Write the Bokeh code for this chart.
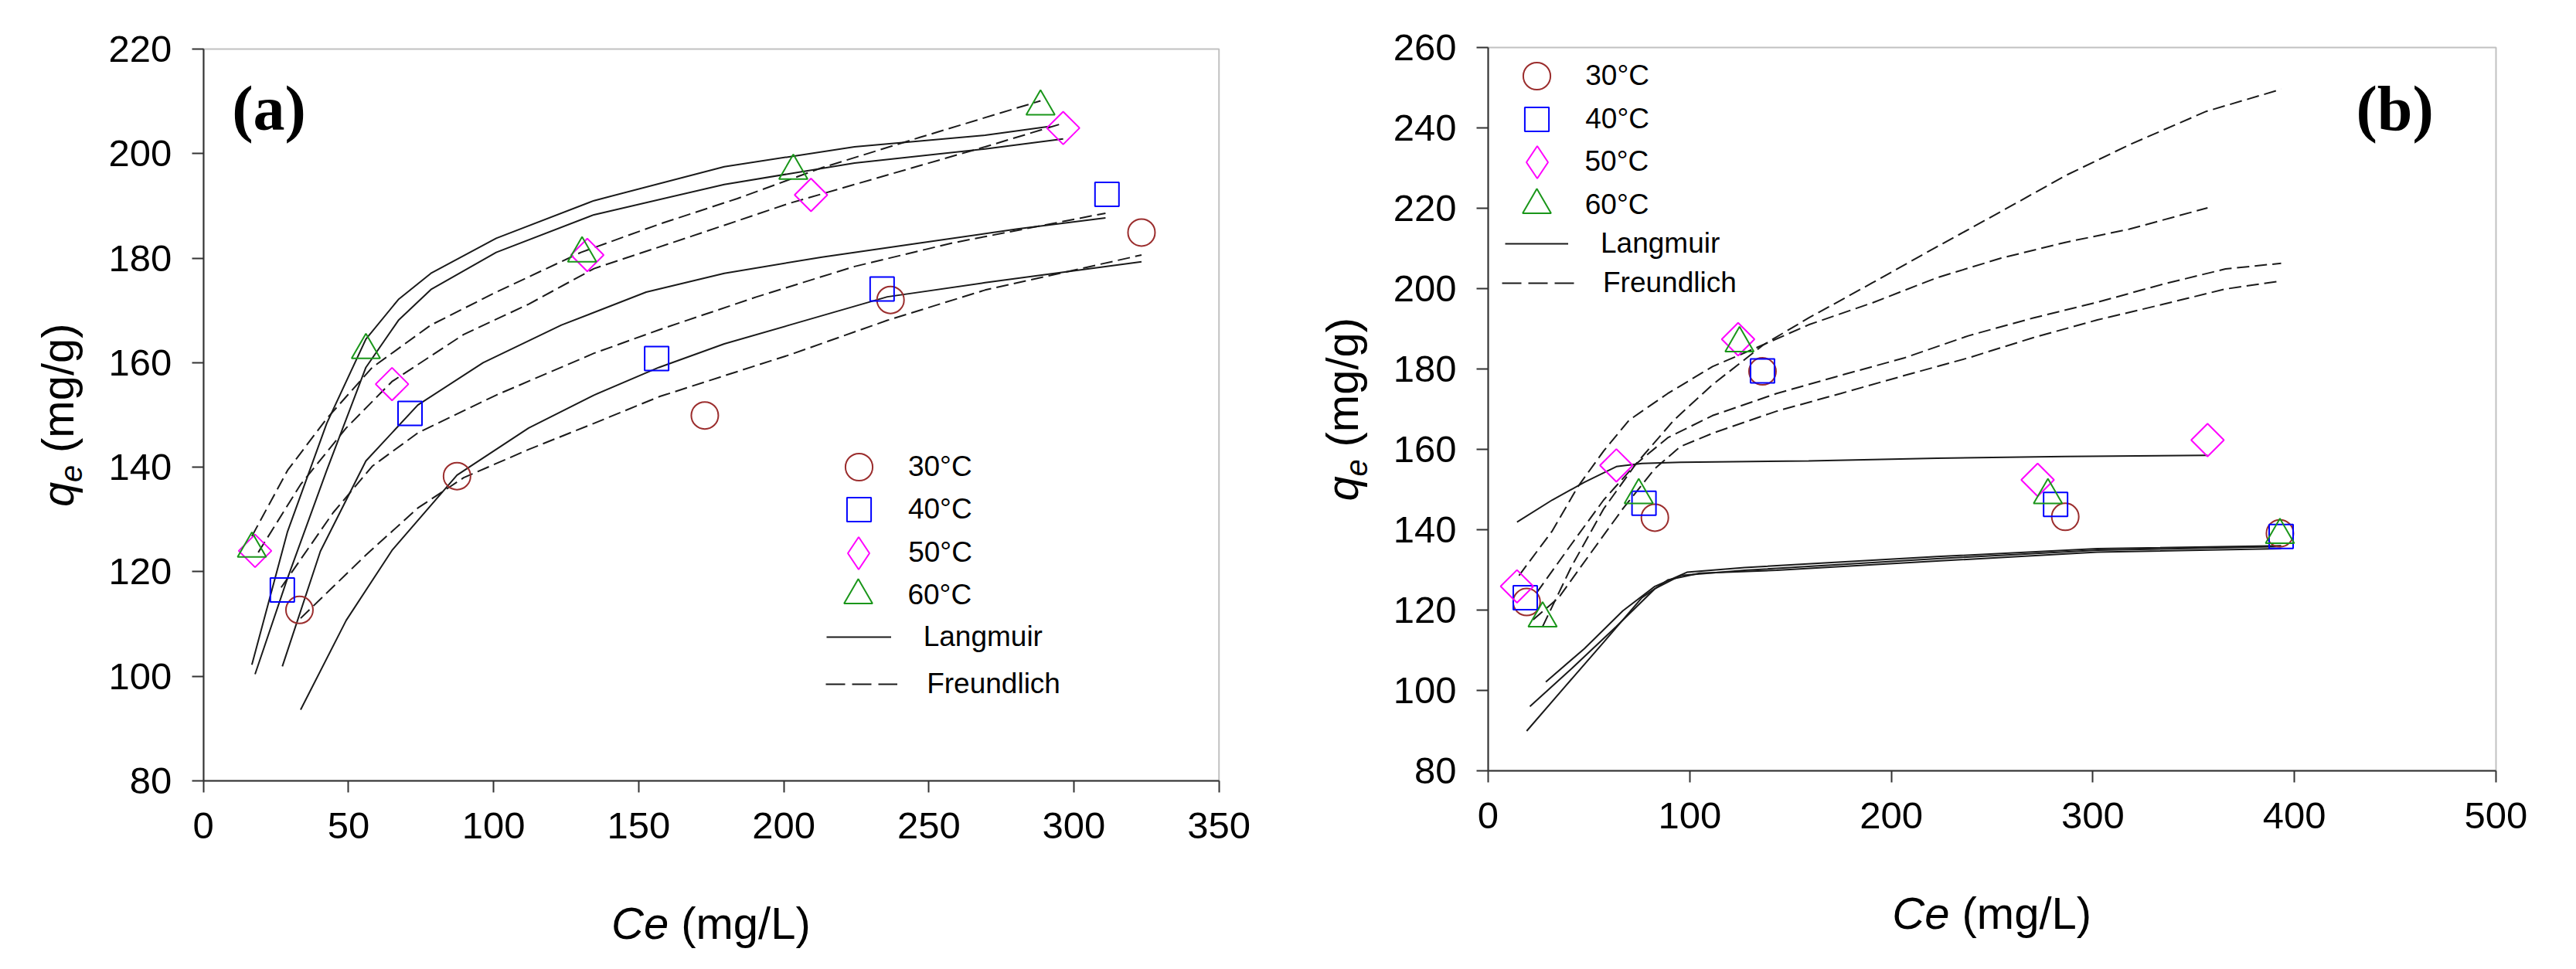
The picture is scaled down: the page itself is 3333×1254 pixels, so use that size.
"""
Adsorption isotherms at four temperatures, panels (a) and (b):
measured qe against Ce with Langmuir (solid) and Freundlich (dashed) fits.
"""

import math

from bokeh.embed import file_html
from bokeh.layouts import row
from bokeh.models import (BoxAnnotation, FixedTicker, Label, Legend, LegendItem,
                          LinearAxis, Range1d)
from bokeh.plotting import figure
from bokeh.resources import INLINE

SANS = "Liberation Sans"
SERIF = "Liberation Serif"
AXIS_COLOR = "#333333"
CURVE_COLOR = "#1a1a1a"
TEMPS = ["30", "40", "50", "60"]
NAN = float("nan")

# ---------------- panel (a) ----------------
a_x_ticks = [0, 50, 100, 150, 200, 250, 300, 350]
a_y_ticks = [80, 100, 120, 140, 160, 180, 200, 220]

a_ce_30 = [33.1, 87.4, 172.8, 236.8, 323.3]
a_qe_30 = [112.7, 138.3, 149.9, 172.0, 184.9]
a_ce_40 = [27.2, 71.2, 156.2, 233.9, 311.4]
a_qe_40 = [116.5, 150.3, 160.8, 174.1, 192.2]
a_ce_50 = [17.8, 65.0, 132.3, 209.4, 296.3]
a_qe_50 = [124.0, 155.9, 180.6, 192.1, 204.9]
a_ce_60 = [16.7, 56.0, 130.5, 203.3, 288.5]
a_qe_60 = [124.4, 162.4, 180.9, 196.7, 209.0]

a_lang_ce_30 = [33.5, 49.2, 65.0, 87.4, 112.1, 134.6, 157.0, 179.5, 202.0, 235.7, 269.4, 323.3]
a_lang_qe_30 = [93.6, 110.7, 124.1, 138.5, 147.5, 153.8, 159.1, 163.6, 167.2, 172.6, 175.3, 179.3]
a_lang_ce_40 = [27.2, 40.3, 56.0, 73.9, 96.4, 123.4, 152.6, 179.5, 213.2, 246.9, 280.6, 310.9]
a_lang_qe_40 = [101.9, 123.9, 141.2, 151.9, 160.0, 167.2, 173.5, 177.1, 180.2, 182.9, 185.6, 187.7]
a_lang_ce_50 = [17.8, 29.0, 42.5, 56.0, 67.2, 78.4, 100.9, 134.6, 179.5, 224.4, 269.4, 296.3]
a_lang_qe_50 = [100.4, 118.8, 139.4, 159.1, 168.1, 174.0, 181.1, 188.3, 194.1, 198.2, 200.9, 202.8]
a_lang_ce_60 = [16.7, 29.0, 42.5, 56.0, 67.2, 78.4, 100.9, 134.6, 179.5, 224.4, 269.4, 291.8]
a_lang_qe_60 = [102.2, 127.7, 148.4, 164.5, 172.1, 177.1, 183.8, 191.0, 197.5, 201.3, 203.5, 205.2]

a_freu_ce_30 = [33.5, 56.0, 73.9, 89.7, 112.1, 134.6, 157.1, 179.5, 202.0, 235.7, 269.4, 323.3]
a_freu_qe_30 = [111.1, 123.2, 132.2, 138.0, 143.4, 148.4, 153.5, 157.5, 161.5, 168.1, 173.9, 180.6]
a_freu_ce_40 = [26.8, 44.7, 58.2, 74.0, 100.9, 134.6, 157.1, 190.7, 224.4, 258.1, 310.9]
a_freu_qe_40 = [117.0, 131.3, 140.2, 146.6, 153.8, 161.8, 166.3, 172.6, 178.4, 182.9, 188.6]
a_freu_ce_50 = [18.9, 33.5, 49.2, 65.0, 89.7, 112.1, 134.6, 168.3, 202.0, 235.7, 269.4, 296.3]
a_freu_qe_50 = [123.7, 136.7, 147.5, 156.4, 165.4, 171.2, 178.0, 184.2, 190.5, 195.9, 201.3, 205.8]
a_freu_ce_60 = [16.7, 29.0, 42.5, 58.2, 78.4, 100.9, 130.1, 157.1, 184.0, 213.2, 246.9, 288.5]
a_freu_qe_60 = [126.8, 139.4, 149.3, 159.1, 167.2, 173.5, 181.1, 186.5, 191.4, 197.3, 203.1, 210.1]

# ---------------- panel (b) ----------------
b_x_ticks = [0, 100, 200, 300, 400, 500]
b_y_ticks = [80, 100, 120, 140, 160, 180, 200, 220, 240, 260]

b_ce_30 = [19.1, 82.7, 136.1, 286.3, 392.8]
b_qe_30 = [122.0, 143.0, 179.4, 143.2, 139.1]
b_ce_40 = [18.4, 77.3, 136.1, 281.5, 393.4]
b_qe_40 = [123.1, 146.6, 179.5, 146.3, 138.3]
b_ce_50 = [14.3, 63.6, 124.0, 272.6, 356.9]
b_qe_50 = [125.9, 156.0, 187.4, 152.4, 162.3]
b_ce_60 = [27.0, 74.7, 124.7, 277.7, 392.8]
b_qe_60 = [117.9, 148.6, 186.4, 148.6, 138.7]

b_lang_ce_30 = [19.1, 38.2, 57.3, 76.3, 89.1, 105.0, 143.1, 222.6, 302.2, 393.4]
b_lang_qe_30 = [89.9, 101.0, 112.0, 123.1, 127.5, 129.2, 129.9, 132.2, 134.4, 135.3]
b_lang_ce_40 = [20.7, 41.3, 63.6, 82.7, 95.4, 127.2, 222.6, 302.2, 393.4]
b_lang_qe_40 = [96.0, 105.4, 115.9, 125.3, 128.6, 129.9, 132.8, 134.9, 135.8]
b_lang_ce_50 = [14.3, 31.8, 47.7, 63.6, 76.3, 95.4, 159.0, 222.6, 286.3, 356.9]
b_lang_qe_50 = [141.9, 147.4, 151.8, 155.7, 156.5, 156.8, 157.1, 157.8, 158.2, 158.5]
b_lang_ce_60 = [28.6, 47.7, 66.8, 82.7, 98.6, 127.2, 222.6, 302.2, 393.4]
b_lang_qe_60 = [102.1, 110.4, 119.8, 125.9, 129.4, 130.6, 133.3, 135.3, 136.0]

b_freu_ce_30 = [22.3, 35.0, 50.9, 66.8, 82.7, 95.4, 111.3, 143.1, 174.9, 206.7, 238.5, 270.4, 302.2, 334.0, 365.8, 393.4]
b_freu_qe_30 = [117.6, 123.1, 134.2, 145.2, 155.2, 160.7, 164.0, 169.5, 173.9, 178.4, 182.8, 187.8, 192.2, 196.0, 199.9, 201.9]
b_freu_ce_40 = [23.9, 41.3, 57.3, 73.2, 89.1, 111.3, 143.1, 174.9, 206.7, 238.5, 270.4, 302.2, 334.0, 365.8, 393.4]
b_freu_qe_40 = [124.2, 136.4, 147.4, 156.3, 162.9, 168.4, 173.9, 178.4, 182.8, 188.3, 192.7, 196.6, 201.0, 204.9, 206.3]
b_freu_ce_50 = [15.3, 31.8, 44.5, 57.3, 70.0, 89.1, 111.3, 136.8, 159.0, 190.8, 222.6, 254.5, 286.3, 318.1, 356.9]
b_freu_qe_50 = [128.6, 139.7, 150.7, 159.6, 167.3, 173.9, 180.6, 186.1, 191.0, 196.5, 202.7, 207.6, 211.5, 214.8, 220.1]
b_freu_ce_60 = [27.0, 41.3, 57.3, 73.2, 92.2, 111.3, 136.8, 159.0, 190.8, 222.6, 254.5, 286.3, 318.1, 356.2, 393.4]
b_freu_qe_60 = [115.9, 130.8, 145.2, 156.3, 167.3, 176.1, 186.1, 192.7, 201.5, 210.4, 219.2, 228.1, 235.8, 244.1, 249.6]

legend_labels = ["30°C", "40°C", "50°C", "60°C"]

# marker, colour, size, angle
MARKER_STYLE = {
    "30": ("circle", "#9b2d2d", 35, 0.0),
    "40": ("square", "#0000ff", 31, 0.0),
    "50": ("square", "#ff00ff", 30, math.pi / 4),
    "60": ("triangle", "#1a961a", 37, 0.0),
}


def key(p, renderer, label, cx, cy, w, h, text_x, box, fig_h):
    """One legend entry; cx, cy, text_x are px from the data box's top-left."""
    left, top = box[0], box[1]
    legend = Legend(
        items=[LegendItem(label=label, renderers=[renderer])],
        location=(left + cx - w / 2, fig_h - (top + cy) - h / 2),
        glyph_width=int(round(w)), glyph_height=int(round(h)),
        label_standoff=int(round(text_x - (cx + w / 2))),
        padding=0, margin=0, spacing=0,
        border_line_alpha=0, background_fill_alpha=0,
        label_text_font=SANS, label_text_font_size="37px",
        label_text_color="black",
    )
    p.add_layout(legend)


def make_panel(tag, size, box, limits, x_ticks, y_ticks,
               points, lang, freu, legend_pos, tag_offset):
    """The whole canvas is the frame; axes sit at fixed data positions inside it."""
    fig_w, fig_h = size
    left, top, bw, bh = box
    xmin, xmax, ymin, ymax = limits
    sx = bw / (xmax - xmin)
    sy = bh / (ymax - ymin)
    x_range = Range1d(xmin - left / sx, xmax + (fig_w - left - bw) / sx)
    y_range = Range1d(ymin - (fig_h - top - bh) / sy, ymax + top / sy)

    p = figure(
        width=fig_w, height=fig_h, x_range=x_range, y_range=y_range,
        x_axis_location=None, y_axis_location=None, min_border=0,
        output_backend="svg", toolbar_location=None, tools="",
    )
    p.xgrid.visible = False
    p.ygrid.visible = False
    p.outline_line_color = None

    xaxis = LinearAxis(fixed_location=ymin, bounds=(xmin, xmax),
                       ticker=FixedTicker(ticks=x_ticks))
    yaxis = LinearAxis(fixed_location=xmin, bounds=(ymin, ymax),
                       ticker=FixedTicker(ticks=y_ticks))
    for ax in (xaxis, yaxis):
        ax.axis_line_color = AXIS_COLOR
        ax.axis_line_width = 2
        ax.major_tick_line_color = AXIS_COLOR
        ax.major_tick_line_width = 2
        ax.major_tick_in = 0
        ax.major_tick_out = 15
        ax.minor_tick_line_color = None
        ax.major_label_text_font = SANS
        ax.major_label_text_font_size = "49px"
        ax.major_label_text_color = "black"
        ax.major_label_standoff = 26
    p.add_layout(xaxis, "below")
    p.add_layout(yaxis, "left")

    # plot box (top and right edges)
    p.add_layout(BoxAnnotation(left=xmin, right=xmax, bottom=ymin, top=ymax,
                               fill_color=None, fill_alpha=0,
                               line_color=AXIS_COLOR, line_width=2))

    # fitted curves
    for t in TEMPS:
        ce, qe = lang[t]
        p.line(ce, qe, line_color=CURVE_COLOR, line_width=2)
    for t in TEMPS:
        ce, qe = freu[t]
        p.line(ce, qe, line_color=CURVE_COLOR, line_width=2, line_dash="16 7")

    # measured points
    point_r = {}
    for t in TEMPS:
        ce, qe = points[t]
        marker, color, msize, angle = MARKER_STYLE[t]
        point_r[t] = p.scatter(ce, qe, marker=marker, size=msize, angle=angle,
                               fill_color=None, line_color=color, line_width=2)

    # legend keys (legend markers are drawn at 0.4 x the glyph box)
    mx, rows, text_x, lines = legend_pos
    for t, lab, cy in zip(TEMPS, legend_labels, rows):
        msize = MARKER_STYLE[t][2]
        rend = point_r[t]
        if t == "50":
            # legend glyphs ignore the angle, so use a diamond marker here
            msize = 42
            rend = p.scatter([NAN], [NAN], marker="diamond", size=msize,
                             fill_color=None, line_color=MARKER_STYLE[t][1],
                             line_width=2)
        if t == "60":
            cy += 5
        g = msize / 0.4
        key(p, rend, lab, mx, cy, g, g, text_x, box, fig_h)
    solid_proxy = p.line([NAN], [NAN], line_color=CURVE_COLOR, line_width=2)
    dash_proxy = p.line([NAN], [NAN], line_color=CURVE_COLOR, line_width=2,
                        line_dash="25 9")
    for proxy, lab, (cx, cy, w, tx) in zip((solid_proxy, dash_proxy),
                                           ("Langmuir", "Freundlich"), lines):
        key(p, proxy, lab, cx, cy, w, 50, tx, box, fig_h)

    # axis titles built from pieces so that q, e and Ce can be italic
    x_mid = (xmin + xmax) / 2
    y_mid = (ymin + ymax) / 2
    title = dict(text_font=SANS, text_font_size="58px", text_color="black",
                 text_baseline="alphabetic")
    p.add_layout(Label(x=x_mid, y=ymin, x_offset=-55, y_offset=-184, text="Ce",
                       text_font_style="italic", text_align="right", **title))
    p.add_layout(Label(x=x_mid, y=ymin, x_offset=-39, y_offset=-184, text="(mg/L)",
                       text_align="left", **title))
    p.add_layout(Label(x=xmin, y=y_mid, x_offset=-189, y_offset=-119, angle=math.pi / 2,
                       text="q", text_font_style="italic", text_align="left", **title))
    p.add_layout(Label(x=xmin, y=y_mid, x_offset=-171, y_offset=-87, angle=math.pi / 2,
                       text="e", text_font=SANS, text_font_size="40px",
                       text_font_style="italic", text_color="black",
                       text_align="left", text_baseline="alphabetic"))
    p.add_layout(Label(x=xmin, y=y_mid, x_offset=-189, y_offset=-49, angle=math.pi / 2,
                       text="(mg/g)", text_align="left", **title))

    # panel tag
    p.add_layout(Label(x=xmin, y=ymax, x_offset=tag_offset[0], y_offset=-tag_offset[1],
                       text=tag, text_font=SERIF, text_font_style="bold",
                       text_font_size="82px", text_color="black",
                       text_align="left", text_baseline="alphabetic"))
    return p


def main():
    pa = make_panel(
        "(a)", (1650, 1238), (262.7, 63, 1314, 947), (0, 350, 80, 220),
        a_x_ticks, a_y_ticks,
        {"30": (a_ce_30, a_qe_30), "40": (a_ce_40, a_qe_40),
         "50": (a_ce_50, a_qe_50), "60": (a_ce_60, a_qe_60)},
        {"30": (a_lang_ce_30, a_lang_qe_30), "40": (a_lang_ce_40, a_lang_qe_40),
         "50": (a_lang_ce_50, a_lang_qe_50), "60": (a_lang_ce_60, a_lang_qe_60)},
        {"30": (a_freu_ce_30, a_freu_qe_30), "40": (a_freu_ce_40, a_freu_qe_40),
         "50": (a_freu_ce_50, a_freu_qe_50), "60": (a_freu_ce_60, a_freu_qe_60)},
        (848, [541, 596, 652, 702], 912,
         [(848, 761, 84, 932), (852, 822, 93, 936)]),
        (37, 77),
    )
    pb = make_panel(
        "(b)", (1665, 1238), (275, 61, 1304, 936), (0, 500, 80, 260),
        b_x_ticks, b_y_ticks,
        {"30": (b_ce_30, b_qe_30), "40": (b_ce_40, b_qe_40),
         "50": (b_ce_50, b_qe_50), "60": (b_ce_60, b_qe_60)},
        {"30": (b_lang_ce_30, b_lang_qe_30), "40": (b_lang_ce_40, b_lang_qe_40),
         "50": (b_lang_ce_50, b_lang_qe_50), "60": (b_lang_ce_60, b_lang_qe_60)},
        {"30": (b_freu_ce_30, b_freu_qe_30), "40": (b_freu_ce_40, b_freu_qe_40),
         "50": (b_freu_ce_50, b_freu_qe_50), "60": (b_freu_ce_60, b_freu_qe_60)},
        (63, [37, 93, 148, 199], 126,
         [(63, 254, 82, 146), (65, 305, 94, 149)]),
        (1123, 79),
    )
    layout = row(pa, pb)
    with open("out.html", "w") as f:
        f.write(file_html(layout, INLINE))


if __name__ == "__main__":
    main()
